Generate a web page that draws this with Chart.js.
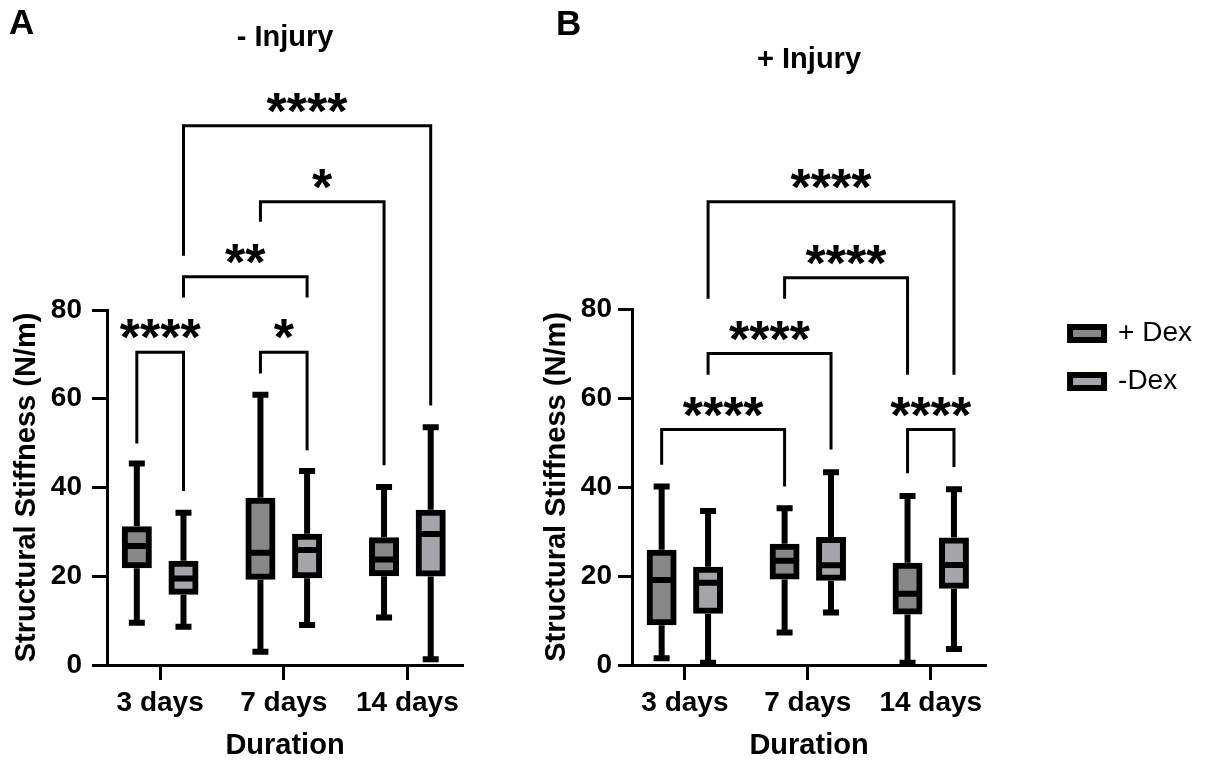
<!DOCTYPE html>
<html><head><meta charset="utf-8">
<script src="https://cdn.jsdelivr.net/npm/chart.js@4.4.1/dist/chart.umd.min.js"></script>
<style>
html,body{margin:0;padding:0;background:#fff;}
#page{position:relative;width:1216px;height:763px;overflow:hidden;background:#fff;font-family:"Liberation Sans",Arial,sans-serif;}
.letter{position:absolute;font-weight:bold;font-size:35px;line-height:35px;color:#000;}
canvas{position:absolute;top:0;}
</style></head><body>
<div id="page">
<canvas id="chartA" width="520" height="763" style="left:0px"></canvas>
<canvas id="chartB" width="686" height="763" style="left:530px"></canvas>
<div class="letter" style="left:9px;top:4px">A</div>
<div class="letter" style="left:556px;top:5px">B</div>
</div>
<script>
// ---------- data ----------
const categories = ['3 days', '7 days', '14 days'];
const seriesNames = ['+ Dex', '-Dex'];
const titleA = '- Injury';
const titleB = '+ Injury';
const yTitle = 'Structural Stiffness (N/m)';
const xTitle = 'Duration';

// Panel A (- Injury)
const aPlusMin = [9.5, 3.0, 10.7];
const aPlusQ1  = [22.5, 19.9, 20.7];
const aPlusMed = [26.8, 25.3, 23.8];
const aPlusQ3  = [30.6, 37.0, 28.1];
const aPlusMax = [45.4, 60.9, 40.1];

const aMinusMin = [8.6, 9.0, 1.3];
const aMinusQ1  = [16.5, 20.2, 20.6];
const aMinusMed = [19.5, 25.9, 29.5];
const aMinusQ3  = [22.8, 28.9, 34.3];
const aMinusMax = [34.3, 43.7, 53.6];

// Panel B (+ Injury)
const bPlusMin = [1.5, 7.3, 0.5];
const bPlusQ1  = [9.6, 19.9, 12.0];
const bPlusMed = [19.1, 23.4, 16.0];
const bPlusQ3  = [25.2, 26.6, 22.3];
const bPlusMax = [40.1, 35.2, 38.0];

const bMinusMin = [0.5, 11.8, 3.6];
const bMinusQ1  = [12.2, 19.6, 17.8];
const bMinusMed = [18.5, 22.4, 22.5];
const bMinusQ3  = [21.4, 28.1, 28.0];
const bMinusMax = [34.6, 43.3, 39.5];

// significance brackets: from/to = [categoryIndex, seriesIndex]; values in y units
const sigA = [
  {from:[0,1], to:[2,1], top:121.5, footFrom:92.2, footTo:58.5, text:'****'},
  {from:[1,0], to:[2,0], top:104.4, footFrom:99.9, footTo:45.0, text:'*'},
  {from:[0,1], to:[1,1], top:87.5,  footFrom:82.8, footTo:82.8, text:'**'},
  {from:[0,0], to:[0,1], top:70.5,  footFrom:49.9, footTo:39.2, text:'****'},
  {from:[1,0], to:[1,1], top:70.5,  footFrom:65.7, footTo:48.4, text:'*'}
];
const sigB = [
  {from:[0,1], to:[2,1], top:104.1, footFrom:82.3, footTo:65.2, text:'****'},
  {from:[1,0], to:[2,0], top:87.0,  footFrom:82.3, footTo:65.2, text:'****'},
  {from:[0,1], to:[1,1], top:70.0,  footFrom:65.2, footTo:48.4, text:'****'},
  {from:[0,0], to:[1,0], top:52.9,  footFrom:45.0, footTo:40.1, text:'****'},
  {from:[2,0], to:[2,1], top:52.9,  footFrom:43.1, footTo:44.5, text:'****'}
];

// ---------- styles ----------
const FONT = '"Liberation Sans", Arial, sans-serif';
const PLUS_COLOR = '#878787';
const MINUS_COLOR = '#a4a4a9';
const LINE_W = 6;
const CAP_HALF = 8;
const STAR_FONT = 'bold 52px ' + FONT;
const STAR_BASELINE = 3;

Chart.defaults.font.family = FONT;
Chart.defaults.color = '#000';

function boxDataset(label, q1, q3, mn, med, mx, color) {
  return {
    label: label,
    data: q1.map((v, i) => ({x: i, y: [v, q3[i]]})),
    whiskerMin: mn, median: med, whiskerMax: mx,
    backgroundColor: color, borderColor: '#000', borderWidth: LINE_W,
    borderSkipped: false, inflateAmount: LINE_W / 2,
    categoryPercentage: 0.755, barPercentage: 0.515
  };
}

const boxWhiskers = {
  id: 'boxWhiskers',
  afterDatasetsDraw(chart) {
    const ctx = chart.ctx, ys = chart.scales.y;
    ctx.save();
    ctx.strokeStyle = '#000'; ctx.lineWidth = LINE_W; ctx.lineCap = 'butt';
    chart.data.datasets.forEach((ds, di) => {
      const meta = chart.getDatasetMeta(di);
      meta.data.forEach((bar, i) => {
        const x = bar.x, w = bar.width;
        const pq1 = ys.getPixelForValue(ds.data[i].y[0]);
        const pq3 = ys.getPixelForValue(ds.data[i].y[1]);
        const pmin = ys.getPixelForValue(ds.whiskerMin[i]);
        const pmax = ys.getPixelForValue(ds.whiskerMax[i]);
        const pmed = ys.getPixelForValue(ds.median[i]);
        ctx.beginPath();
        ctx.moveTo(x, pq3 - LINE_W / 2); ctx.lineTo(x, pmax);
        ctx.moveTo(x, pq1 + LINE_W / 2); ctx.lineTo(x, pmin);
        ctx.moveTo(x - CAP_HALF, pmax); ctx.lineTo(x + CAP_HALF, pmax);
        ctx.moveTo(x - CAP_HALF, pmin); ctx.lineTo(x + CAP_HALF, pmin);
        ctx.moveTo(x - w / 2, pmed); ctx.lineTo(x + w / 2, pmed);
        ctx.stroke();
      });
    });
    ctx.restore();
  }
};

function bracketPlugin(list) {
  return {
    id: 'sigBrackets',
    afterDraw(chart) {
      const ctx = chart.ctx, ys = chart.scales.y;
      const px = ref => chart.getDatasetMeta(ref[1]).data[ref[0]].x;
      ctx.save();
      ctx.strokeStyle = '#000'; ctx.lineWidth = 3; ctx.lineJoin = 'miter'; ctx.lineCap = 'butt';
      ctx.fillStyle = '#000'; ctx.font = STAR_FONT; ctx.textAlign = 'center'; ctx.textBaseline = 'alphabetic';
      list.forEach(b => {
        const x1 = px(b.from), x2 = px(b.to);
        const yTop = ys.getPixelForValue(b.top);
        ctx.beginPath();
        ctx.moveTo(x1, ys.getPixelForValue(b.footFrom));
        ctx.lineTo(x1, yTop);
        ctx.lineTo(x2, yTop);
        ctx.lineTo(x2, ys.getPixelForValue(b.footTo));
        ctx.stroke();
        ctx.fillText(b.text, (x1 + x2) / 2, yTop + STAR_BASELINE);
      });
      ctx.restore();
    }
  };
}

const legendNudge = {
  id: 'legendNudge',
  afterLayout(chart) {
    const lg = chart.legend;
    if (!lg) return;
    lg.left += 64; lg.right += 64;
    lg.top -= 9.5; lg.bottom -= 9.5;
  }
};

function makeOptions(title, titlePad, yAxisWidth, yTickPad, yTickLen, showLegend, padRight) {
  return {
    responsive: false,
    animation: false,
    layout: {padding: {left: 0, right: padRight, top: 0, bottom: 0}},
    plugins: {
      title: {display: true, text: title, fullSize: false, color: '#000',
              font: {size: 29, weight: 'bold'}, padding: titlePad},
      legend: {display: showLegend, position: 'right', align: 'start', fullSize: false,
               labels: {boxWidth: 34, boxHeight: 13, padding: 20, color: '#000',
                        font: {size: 28, weight: 'normal'}}},
      tooltip: {enabled: false}
    },
    scales: {
      x: {
        type: 'linear', min: -0.43, max: 2.45, offset: false,
        afterBuildTicks: s => { s.ticks = categories.map((c, i) => ({value: i})); },
        afterFit: s => { s.height = 98; },
        grid: {offset: false, drawOnChartArea: false, color: '#000', tickLength: 15, tickWidth: 3},
        border: {color: '#000', width: 3},
        ticks: {callback: v => categories[v], padding: 6, maxRotation: 0, minRotation: 0,
                autoSkip: false, color: '#000', font: {size: 28, weight: 'bold'}},
        title: {display: true, text: xTitle, color: '#000', padding: {top: 0, bottom: 0},
                font: {size: 29, weight: 'bold'}}
      },
      y: {
        type: 'linear', min: 0, max: 80,
        afterFit: s => { s.width = yAxisWidth; },
        grid: {drawOnChartArea: false, color: '#000', tickLength: yTickLen, tickWidth: 3},
        border: {color: '#000', width: 3},
        ticks: {stepSize: 20, padding: yTickPad, color: '#000', font: {size: 28, weight: 'bold'}},
        title: {display: true, text: yTitle, color: '#000', padding: {top: 10, bottom: 0},
                font: {size: 29, weight: 'bold'}}
      }
    }
  };
}

new Chart(document.getElementById('chartA'), {
  type: 'bar',
  data: {datasets: [
    boxDataset(seriesNames[0], aPlusQ1, aPlusQ3, aPlusMin, aPlusMed, aPlusMax, PLUS_COLOR),
    boxDataset(seriesNames[1], aMinusQ1, aMinusQ3, aMinusMin, aMinusMed, aMinusMax, MINUS_COLOR)
  ]},
  options: makeOptions(titleA, {top: 21, bottom: 254.2}, 107, 10, 15, false, 57),
  plugins: [boxWhiskers, bracketPlugin(sigA)]
});

new Chart(document.getElementById('chartB'), {
  type: 'bar',
  data: {datasets: [
    boxDataset(seriesNames[0], bPlusQ1, bPlusQ3, bPlusMin, bPlusMed, bPlusMax, PLUS_COLOR),
    boxDataset(seriesNames[1], bMinusQ1, bMinusQ3, bMinusMin, bMinusMed, bMinusMax, MINUS_COLOR)
  ]},
  options: makeOptions(titleB, {top: 42.2, bottom: 232}, 102, 6, 14, true, 78),
  plugins: [boxWhiskers, bracketPlugin(sigB), legendNudge]
});
</script>
</body></html>
